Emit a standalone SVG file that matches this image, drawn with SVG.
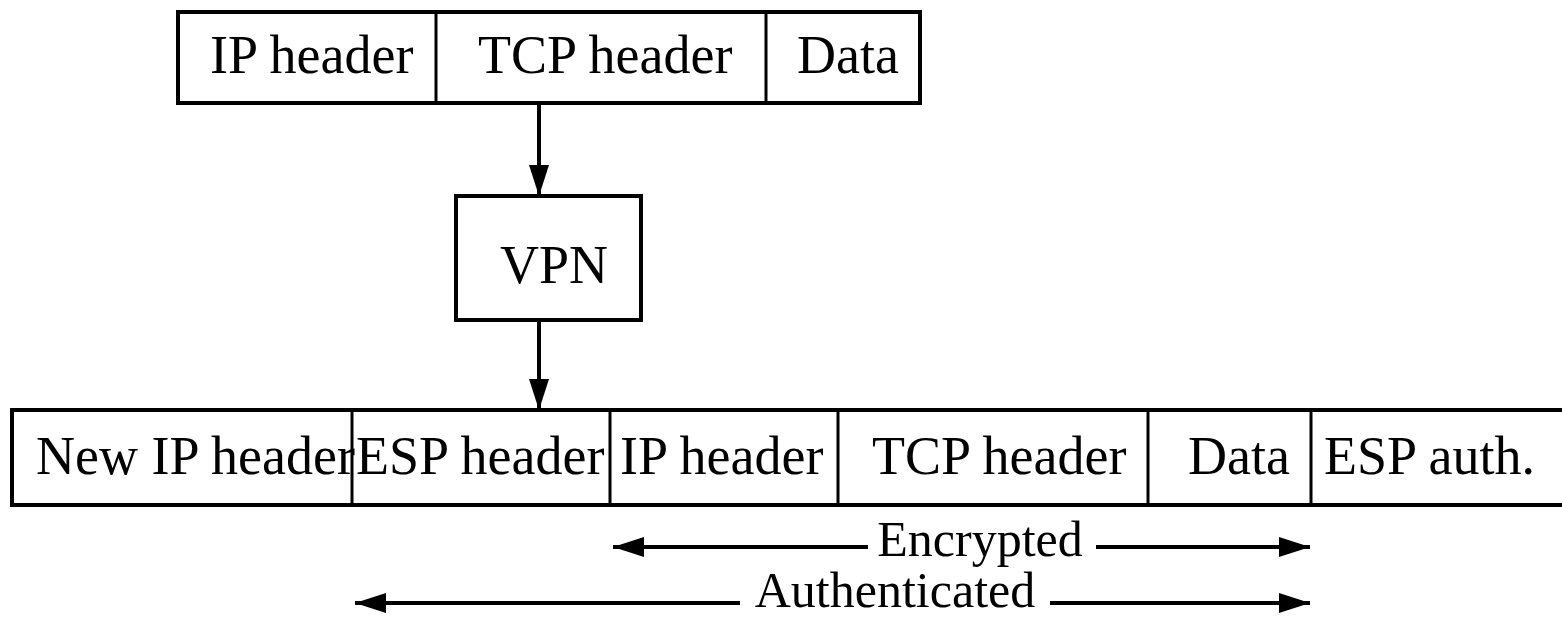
<svg xmlns="http://www.w3.org/2000/svg" width="1562" height="619" viewBox="0 0 1562 619">
<style>
.box{fill:#fff;stroke:#000;stroke-width:4}
.div{stroke:#000;stroke-width:3}
.t{font-family:"Liberation Serif","Times New Roman",serif;font-size:54px;fill:#000}
.s{font-family:"Liberation Serif","Times New Roman",serif;font-size:50px;fill:#000}
.ln{stroke:#000;stroke-width:4;fill:none}
</style>
<defs>
<marker id="ah" markerUnits="userSpaceOnUse" markerWidth="32" markerHeight="22" refX="31" refY="10" orient="auto">
<path d="M0,0 L31,10 L0,20 Z" fill="#000"/>
</marker>
</defs>
<rect width="1562" height="619" fill="#fff"/>
<g id="top-packet">
<rect class="box" x="178" y="12" width="742" height="91"/>
<line class="div" x1="436" y1="12" x2="436" y2="103"/>
<line class="div" x1="766" y1="12" x2="766" y2="103"/>
<text class="t" x="210" y="73">IP header</text>
<text class="t" x="478" y="73">TCP header</text>
<text class="t" x="797" y="73">Data</text>
</g>
<g id="vpn">
<rect class="box" x="456" y="196" width="185" height="124"/>
<text class="t" x="500" y="283">VPN</text>
</g>
<g id="bottom-packet">
<rect class="box" x="12" y="410" width="1560" height="95"/>
<line class="div" x1="352" y1="410" x2="352" y2="505"/>
<line class="div" x1="610" y1="410" x2="610" y2="505"/>
<line class="div" x1="838" y1="410" x2="838" y2="505"/>
<line class="div" x1="1148" y1="410" x2="1148" y2="505"/>
<line class="div" x1="1311" y1="410" x2="1311" y2="505"/>
<text class="t" x="36" y="474">New IP header</text>
<text class="t" x="356" y="474">ESP header</text>
<text class="t" x="620" y="474">IP header</text>
<text class="t" x="872" y="474">TCP header</text>
<text class="t" x="1188" y="474">Data</text>
<text class="t" x="1324" y="474">ESP auth.</text>
</g>
<g id="labels">
<text class="s" x="980" y="556" text-anchor="middle">Encrypted</text>
<text class="s" x="895" y="607" text-anchor="middle">Authenticated</text>
</g>
<g id="connectors">
<line class="ln" x1="539" y1="103" x2="539" y2="196" marker-end="url(#ah)"/>
<line class="ln" x1="539" y1="320" x2="539" y2="410" marker-end="url(#ah)"/>
<line class="ln" x1="868" y1="547" x2="613" y2="547" marker-end="url(#ah)"/>
<line class="ln" x1="1096" y1="547" x2="1310" y2="547" marker-end="url(#ah)"/>
<line class="ln" x1="740" y1="603" x2="355" y2="603" marker-end="url(#ah)"/>
<line class="ln" x1="1050" y1="603" x2="1310" y2="603" marker-end="url(#ah)"/>
</g>
</svg>
